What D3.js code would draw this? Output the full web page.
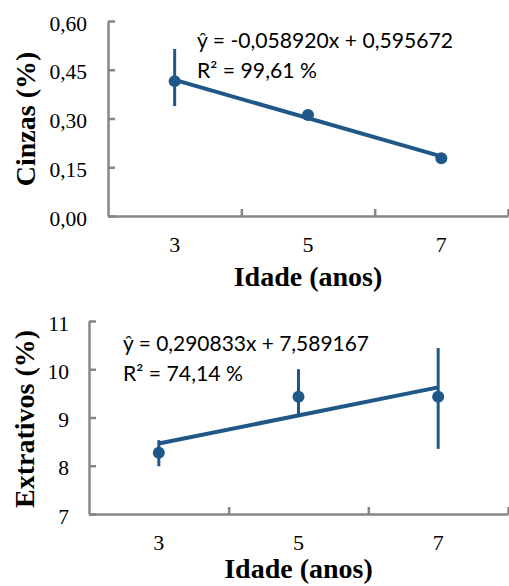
<!DOCTYPE html>
<html>
<head>
<meta charset="utf-8">
<script src="https://cdn.jsdelivr.net/npm/d3@7"></script>
<style>
  html, body { margin: 0; padding: 0; background: #fff; }
  svg { display: block; }
</style>
</head>
<body>
<svg id="chart" width="509" height="586"></svg>
<script>
// ---------- DATA ----------
const idades = [3, 5, 7];

// Cinzas (%)
const cinzasMean = [0.415, 0.311, 0.178];
const cinzasLow  = [0.338, 0.303, 0.172];
const cinzasHigh = [0.514, 0.319, 0.184];
const cinzasTicks = [0, 0.15, 0.30, 0.45, 0.60];
const cinzasSlope = -0.058920;
const cinzasIntercept = 0.595672;
const cinzasEq = ["ŷ = -0,058920x + 0,595672", "R² = 99,61 %"];

// Extrativos (%)
const extrMean = [8.27, 9.43, 9.43];
const extrLow  = [7.99, 9.05, 8.35];
const extrHigh = [8.53, 10.0, 10.44];
const extrTicks = [7, 8, 9, 10, 11];
const extrSlope = 0.290833;
const extrIntercept = 7.589167;
const extrEq = ["ŷ = 0,290833x + 7,589167", "R² = 74,14 %"];

// ---------- STYLE ----------
const BLUE = "#1f5788";
const AXIS = "#868686";
const SERIF = "'Liberation Serif','Times New Roman',serif";
const SANS = "Lato, 'Open Sans', sans-serif";

const svg = d3.select("#chart");

function panel(cfg) {
  const g = svg.append("g");
  const x = d3.scaleBand().domain(idades).range([cfg.left, cfg.right]).paddingInner(0).paddingOuter(0);
  const xIdx = d3.scaleLinear().domain([0, idades.length]).range([cfg.left, cfg.right]);
  const y = d3.scaleLinear().domain(cfg.yDomain).range([cfg.bottom, cfg.top]);
  const cx = d => x(d) + x.bandwidth() / 2;

  // y axis (ticks inside)
  const ya = g.append("g").attr("transform", `translate(${cfg.left},0)`)
    .call(d3.axisLeft(y).tickValues(cfg.ticks).tickSizeInner(-7).tickSizeOuter(0)
      .tickPadding(cfg.yPad).tickFormat(cfg.fmt));
  ya.select(".domain").attr("stroke", AXIS).attr("stroke-width", 2.5);
  ya.selectAll(".tick line").attr("stroke", AXIS).attr("stroke-width", 2.5);
  ya.selectAll(".tick text").attr("font-family", SERIF).attr("font-size", 21.5)
    .attr("fill", "#000").attr("dy", "0.42em");

  // x axis line + boundary ticks (inside)
  const xa = g.append("g").attr("transform", `translate(0,${cfg.bottom})`)
    .call(d3.axisBottom(xIdx).tickValues(d3.range(1, idades.length + 1))
      .tickSizeInner(-7).tickSizeOuter(0).tickFormat(""));
  xa.select(".domain").attr("stroke", AXIS).attr("stroke-width", 2.5);
  xa.selectAll(".tick line").attr("stroke", AXIS).attr("stroke-width", 2.5);

  // x labels at category centers
  const xl = g.append("g").attr("transform", `translate(0,${cfg.bottom})`)
    .call(d3.axisBottom(x).tickSize(0).tickPadding(20));
  xl.select(".domain").remove();
  xl.selectAll(".tick text").attr("font-family", SERIF).attr("font-size", 22).attr("fill", "#000");

  // error bars
  g.selectAll(".err").data(idades).enter().append("line")
    .attr("x1", d => cx(d)).attr("x2", d => cx(d))
    .attr("y1", (d, i) => y(cfg.low[i])).attr("y2", (d, i) => y(cfg.high[i]))
    .attr("stroke", BLUE).attr("stroke-width", 3);

  // regression line
  const x0 = idades[0], x1 = idades[idades.length - 1];
  g.append("line")
    .attr("x1", cx(x0)).attr("y1", y(cfg.slope * x0 + cfg.intercept))
    .attr("x2", cx(x1)).attr("y2", y(cfg.slope * x1 + cfg.intercept))
    .attr("stroke", BLUE).attr("stroke-width", 4);

  // markers
  g.selectAll(".pt").data(idades).enter().append("circle")
    .attr("cx", d => cx(d)).attr("cy", (d, i) => y(cfg.mean[i]))
    .attr("r", 6).attr("fill", BLUE);

  // equation
  g.append("text").attr("x", cfg.eqX).attr("y", cfg.eqY)
    .attr("font-family", SANS).attr("font-size", 20.5).attr("fill", "#000")
    .attr("textLength", cfg.eqLen).attr("lengthAdjust", "spacingAndGlyphs")
    .text(cfg.eq[0]);
  g.append("text").attr("x", cfg.eqX).attr("y", cfg.eqY + 30)
    .attr("font-family", SANS).attr("font-size", 20.5).attr("fill", "#000")
    .attr("textLength", 120).attr("lengthAdjust", "spacingAndGlyphs")
    .text(cfg.eq[1]);

  // axis titles
  g.append("text").attr("x", (cfg.left + cfg.right) / 2).attr("y", cfg.xTitleY)
    .attr("text-anchor", "middle").attr("font-family", SERIF).attr("font-weight", "bold")
    .attr("font-size", 28).attr("fill", "#000").text("Idade (anos)");
  g.append("text").attr("transform", `translate(${cfg.yTitleX},${cfg.yTitleCY}) rotate(-90)`)
    .attr("text-anchor", "middle").attr("font-family", SERIF).attr("font-weight", "bold")
    .attr("font-size", 28).attr("fill", "#000").text(cfg.yTitle);
}

const commaFmt = f => v => d3.format(f)(v).replace(".", ",");

panel({
  left: 108, right: 508, top: 21, bottom: 216,
  yDomain: [0, 0.6], ticks: cinzasTicks, fmt: commaFmt(".2f"), yPad: 21,
  mean: cinzasMean, low: cinzasLow, high: cinzasHigh,
  slope: cinzasSlope, intercept: cinzasIntercept,
  eq: cinzasEq, eqX: 197, eqY: 48, eqLen: 256,
  xTitleY: 286, yTitle: "Cinzas (%)", yTitleX: 35, yTitleCY: 119
});

panel({
  left: 89, right: 508, top: 321, bottom: 514,
  yDomain: [7, 11], ticks: extrTicks, fmt: commaFmt("d"), yPad: 20,
  mean: extrMean, low: extrLow, high: extrHigh,
  slope: extrSlope, intercept: extrIntercept,
  eq: extrEq, eqX: 123, eqY: 351, eqLen: 246,
  xTitleY: 578, yTitle: "Extrativos (%)", yTitleX: 34, yTitleCY: 419
});
</script>
</body>
</html>
